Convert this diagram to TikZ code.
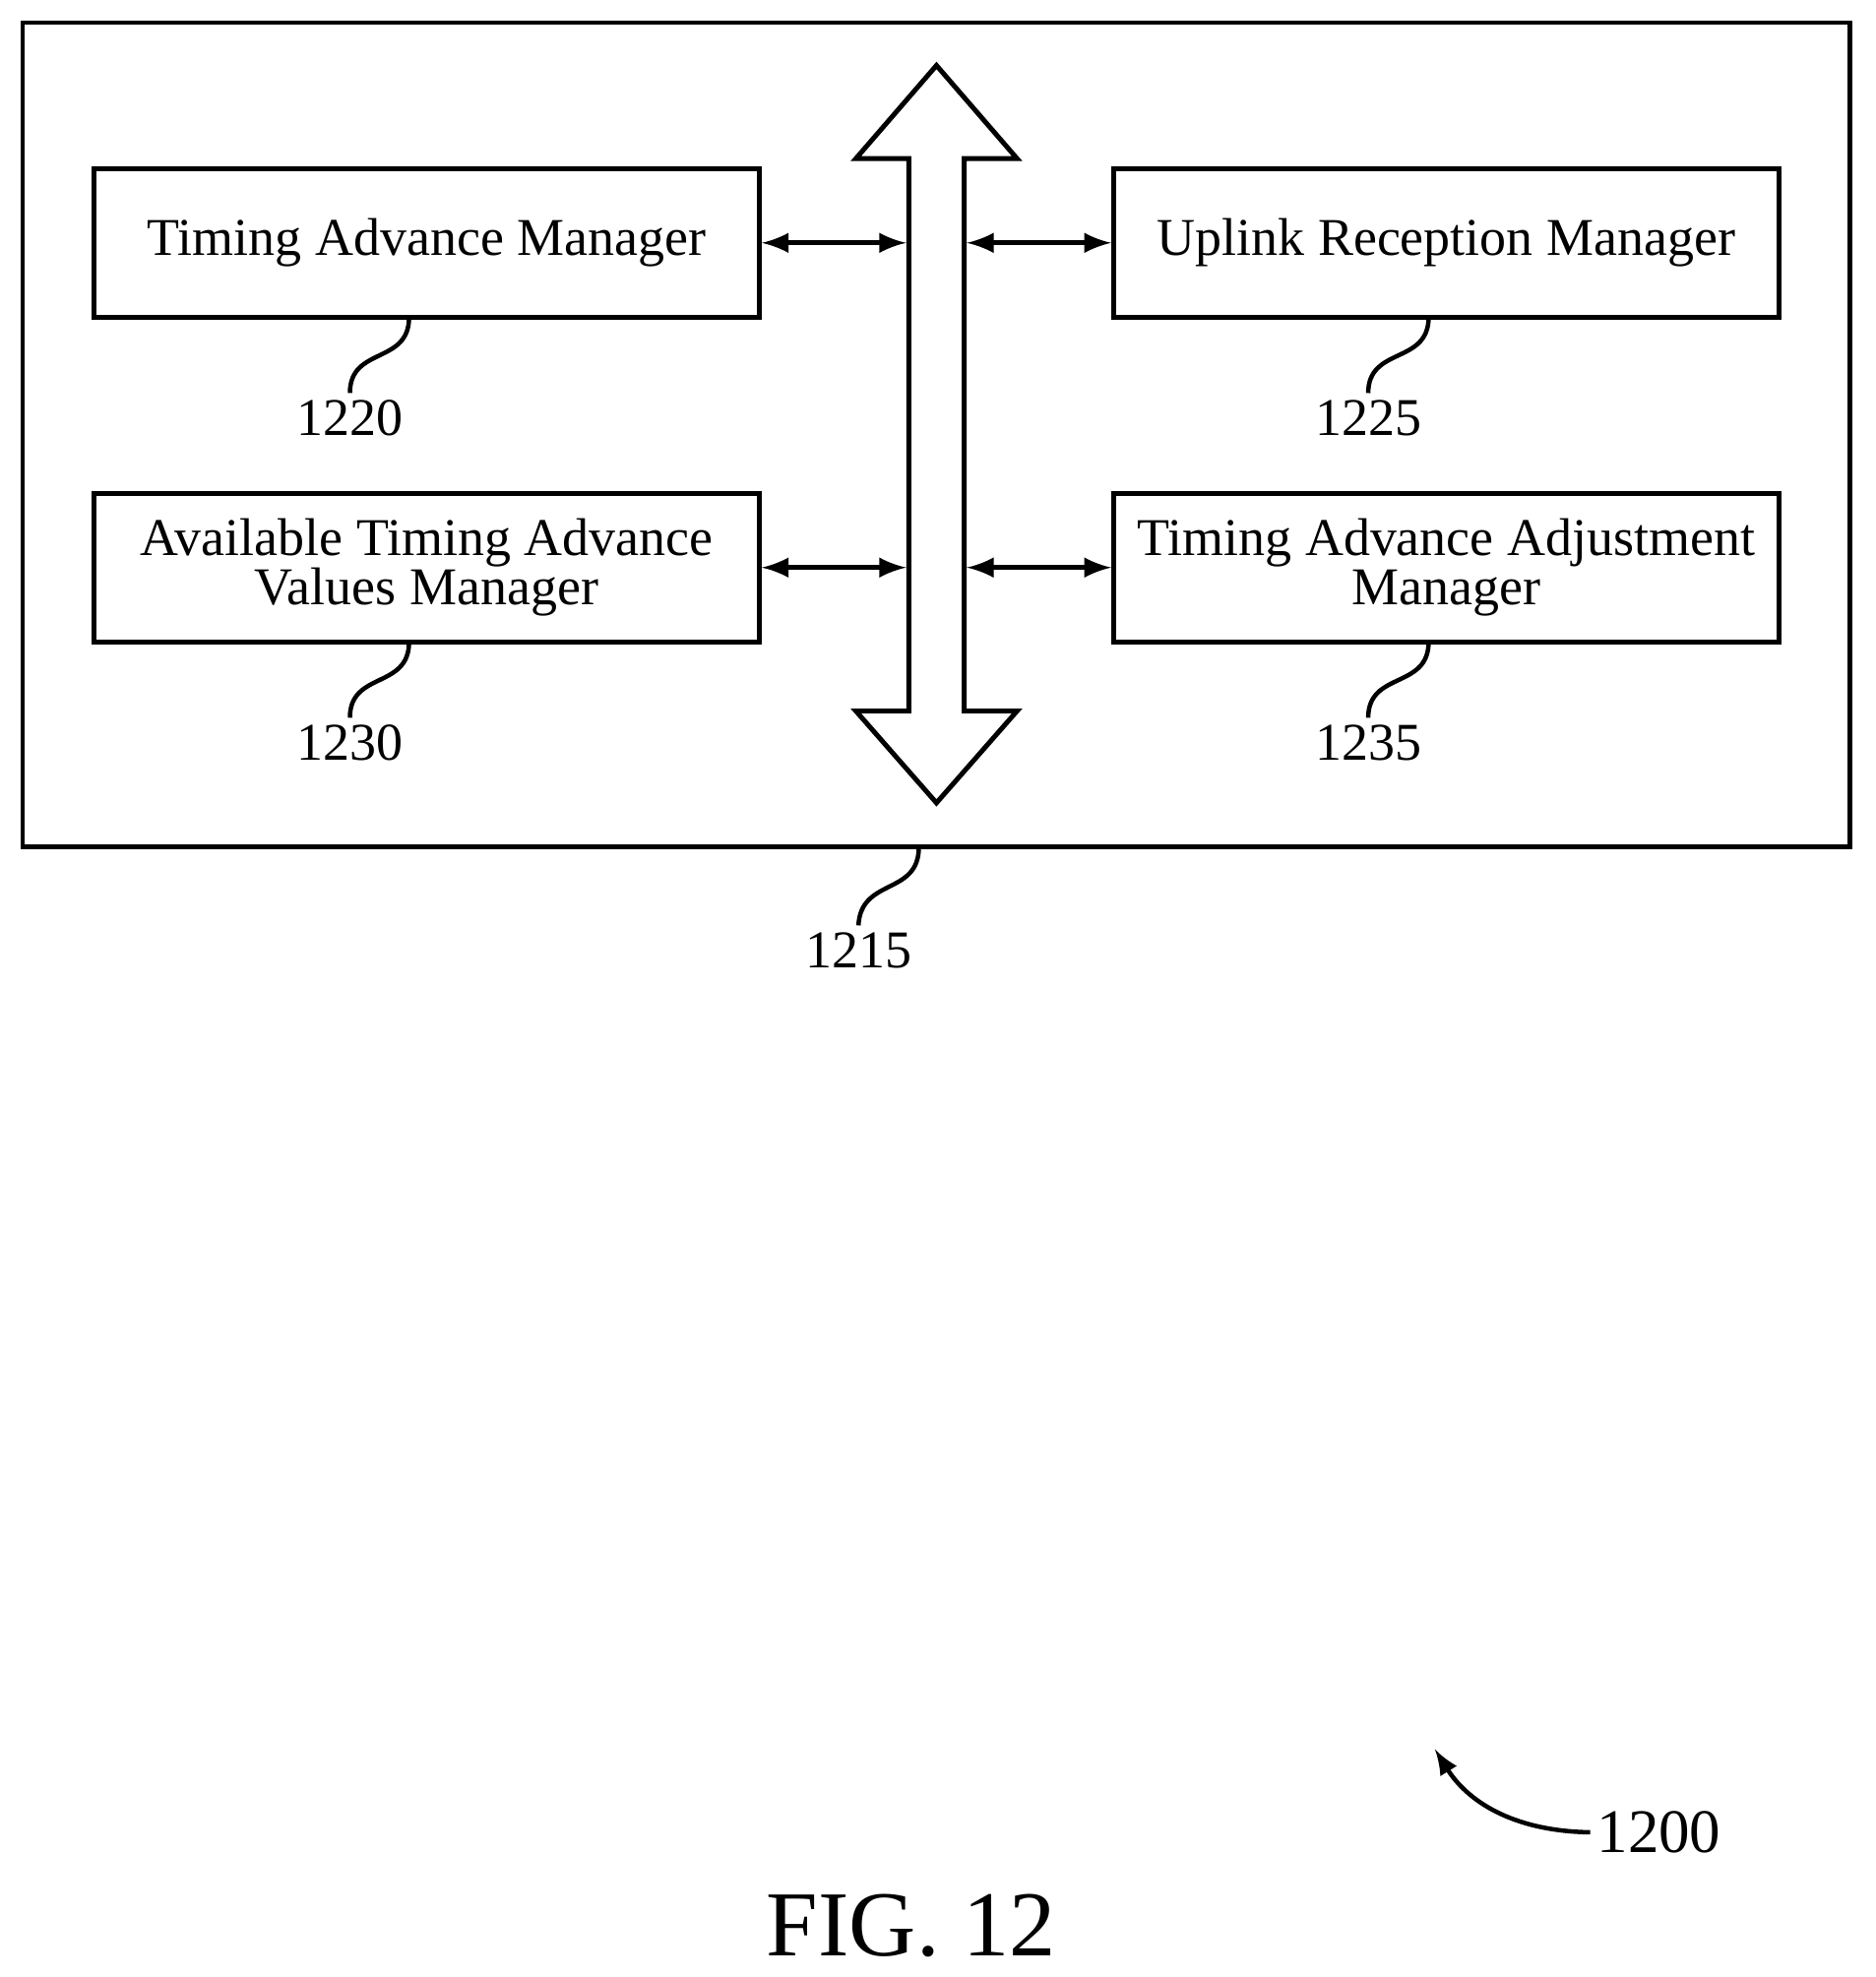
\documentclass[tikz,border=0pt]{standalone}
\usepackage{fontspec}
\setmainfont{Liberation Serif}
\usetikzlibrary{positioning}
\tikzset{>=latex}
\tikzset{blk/.style={draw, line width=1.1pt, minimum width=5.28cm, minimum height=1.18cm, align=center, font=\fontsize{12}{13}\selectfont, inner sep=0pt}}
\tikzset{lbl/.style={font=\fontsize{12}{13}\selectfont, inner sep=1pt}}
\tikzset{lead/.style={line width=1pt}}
\begin{document}
\begin{tikzpicture}[x=0.01cm,y=-0.01cm, line width=1.1pt]
  \useasboundingbox (0,0) rectangle (1490,1571);
  \draw (18,18) rectangle (1470,673);

  \node[blk] (tam) at (339,193) {Timing Advance Manager};
  \node[blk] (urm) at (1149,193) {Uplink Reception Manager};
  \node[blk] (atv) at (339,451) {Available Timing Advance\\[-2pt]Values Manager};
  \node[blk] (taa) at (1149,451) {Timing Advance Adjustment\\[-2pt]Manager};

  % bus
  \draw[fill=white] (744,52) -- (808,126) -- (766,126) -- (766,565) -- (808,565)
    -- (744,638) -- (680,565) -- (722,565) -- (722,126) -- (680,126) -- cycle;
  \coordinate (busl1) at (720,193);
  \coordinate (busr1) at (768,193);
  \coordinate (busl2) at (720,451);
  \coordinate (busr2) at (768,451);

  \draw[<->] (tam.east) -- (busl1);
  \draw[<->] (busr1) -- (urm.west);
  \draw[<->] (atv.east) -- (busl2);
  \draw[<->] (busr2) -- (taa.west);

  \node[lbl] (n1220) at (278,332) {1220};
  \node[lbl] (n1225) at (1087,332) {1225};
  \node[lbl] (n1230) at (278,590) {1230};
  \node[lbl] (n1235) at (1087,590) {1235};
  \node[lbl] (n1215) at (682,755) {1215};

  \draw[lead] (325,252) .. controls (325,290) and (278,275) .. (n1220.north);
  \draw[lead] (1135,252) .. controls (1135,290) and (1087,275) .. (n1225.north);
  \draw[lead] (325,510) .. controls (325,548) and (278,533) .. (n1230.north);
  \draw[lead] (1135,510) .. controls (1135,548) and (1087,533) .. (n1235.north);
  \draw[lead] (730,673) .. controls (730,712) and (684,697) .. (n1215.north);

  \node[lbl, font=\fontsize{14}{15}\selectfont] (n1200) at (1318,1456) {1200};
  \draw[lead,->] (n1200.west) .. controls (1200,1455) and (1165,1430) .. (1140,1390);

  \node[font=\fontsize{21}{22}\selectfont] (fig) at (724,1530) {FIG. 12};
\end{tikzpicture}
\end{document}
